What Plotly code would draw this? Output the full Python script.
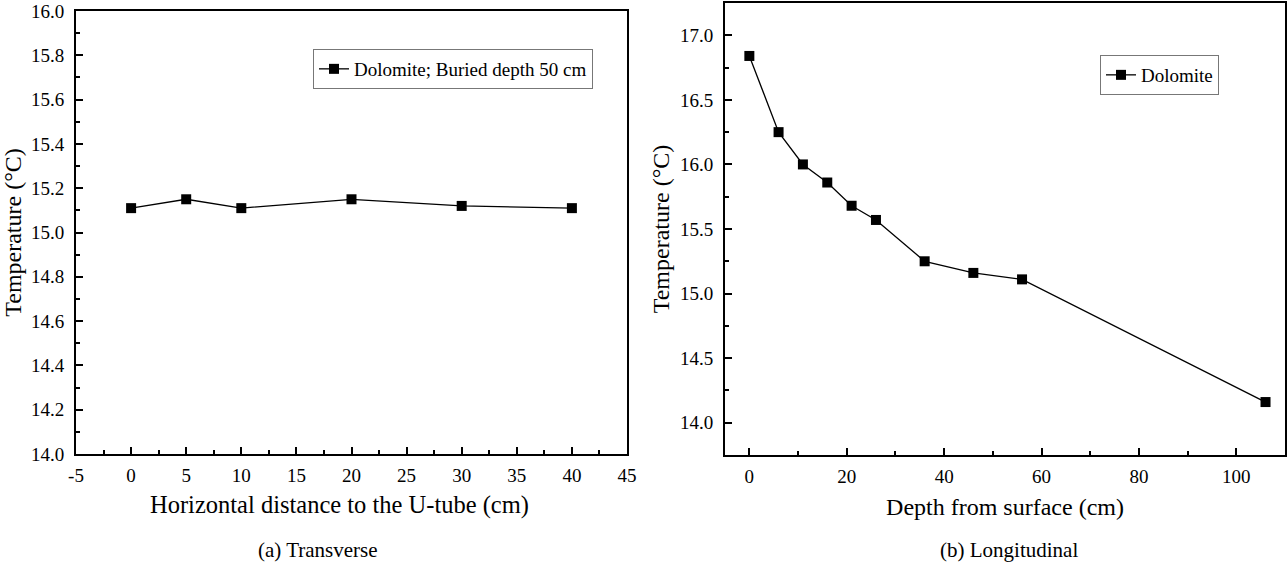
import plotly.graph_objects as go

# Panel (a) Transverse
dist_cm = [0, 5, 10, 20, 30, 40]
temp_a = [15.11, 15.15, 15.11, 15.15, 15.12, 15.11]
xa_tickvals = [-5, 0, 5, 10, 15, 20, 25, 30, 35, 40, 45]
xa_ticktext = ["-5", "0", "5", "10", "15", "20", "25", "30", "35", "40", "45"]

# Panel (b) Longitudinal
depth_cm = [0, 6, 11, 16, 21, 26, 36, 46, 56, 106]
temp_b = [16.84, 16.25, 16.00, 15.86, 15.68, 15.57, 15.25, 15.16, 15.11, 14.16]

FONT = "Liberation Serif"
TXT = "black"
W, H = 1287, 571

fig = go.Figure()
fig.add_trace(go.Scatter(
    x=dist_cm, y=temp_a, mode="lines+markers", name="Dolomite; Buried depth 50 cm",
    line=dict(color="black", width=1.3),
    marker=dict(symbol="square", size=10, color="black"),
    xaxis="x", yaxis="y", legend="legend"))
fig.add_trace(go.Scatter(
    x=depth_cm, y=temp_b, mode="lines+markers", name="Dolomite",
    line=dict(color="black", width=1.3),
    marker=dict(symbol="square", size=10, color="black"),
    xaxis="x2", yaxis="y2", legend="legend2"))

minor_common = dict(ticks="inside", ticklen=4, tickwidth=2, tickcolor="black")
axis_common = dict(
    showline=True, linecolor="black", linewidth=2, mirror=True,
    ticks="inside", ticklen=7, tickwidth=2, tickcolor="black",
    showgrid=False, zeroline=False, automargin=False,
    tickfont=dict(family=FONT, size=19, color=TXT),
)
title_font = dict(family=FONT, size=24, color=TXT)

def px_x(p):
    return p / W

def px_y(p):
    return 1 - p / H

fig.update_layout(
    width=W, height=H,
    margin=dict(l=0, r=0, t=0, b=0),
    paper_bgcolor="white", plot_bgcolor="white",
    font=dict(family=FONT, color=TXT),
    xaxis=dict(domain=[px_x(76), px_x(627)], range=[-5, 45],
               tickmode="array", tickvals=xa_tickvals, ticktext=xa_ticktext,
               minor=dict(dtick=2.5, **minor_common), ticklabelstandoff=3,
               anchor="y", **axis_common),
    yaxis=dict(domain=[px_y(454), px_y(11)], range=[14.0, 16.0], dtick=0.2, tickformat=".1f",
               minor=dict(dtick=0.1, **minor_common), ticklabelstandoff=6,
               title=dict(text="Temperature (°C)", font=title_font, standoff=4),
               anchor="x", **axis_common),
    xaxis2=dict(domain=[px_x(725), px_x(1285)], range=[-5, 110], dtick=20,
                minor=dict(dtick=10, **minor_common), ticklabelstandoff=3,
                title=dict(text="Depth from surface (cm)", font=title_font, standoff=12),
                anchor="y2", **axis_common),
    yaxis2=dict(domain=[px_y(455), px_y(3)], range=[13.75, 17.25], dtick=0.5, tickformat=".1f",
                minor=dict(dtick=0.25, **minor_common), ticklabelstandoff=6,
                title=dict(text="Temperature (°C)", font=title_font, standoff=4),
                anchor="x2", **axis_common),
    legend=dict(x=px_x(313), y=px_y(49), xanchor="left", yanchor="top",
                bordercolor="#777", borderwidth=1, bgcolor="white",
                font=dict(family=FONT, size=19, color=TXT),
                itemwidth=30, tracegroupgap=0),
    legend2=dict(x=px_x(1100), y=px_y(55), xanchor="left", yanchor="top",
                 bordercolor="#777", borderwidth=1, bgcolor="white",
                 font=dict(family=FONT, size=19, color=TXT),
                 itemwidth=30, tracegroupgap=0),
    showlegend=True,
    annotations=[
        dict(text="Horizontal distance to the U-tube (cm)", x=px_x(339), y=px_y(505),
             xref="paper", yref="paper", showarrow=False,
             font=dict(family=FONT, size=24.5, color=TXT),
             xanchor="center", yanchor="middle"),
        dict(text="(a) Transverse", x=px_x(318), y=px_y(550), xref="paper", yref="paper",
             showarrow=False, font=dict(family=FONT, size=21, color=TXT),
             xanchor="center", yanchor="middle"),
        dict(text="(b) Longitudinal", x=px_x(1009), y=px_y(550), xref="paper", yref="paper",
             showarrow=False, font=dict(family=FONT, size=21, color=TXT),
             xanchor="center", yanchor="middle"),
    ],
)

fig.write_html("out.html")
